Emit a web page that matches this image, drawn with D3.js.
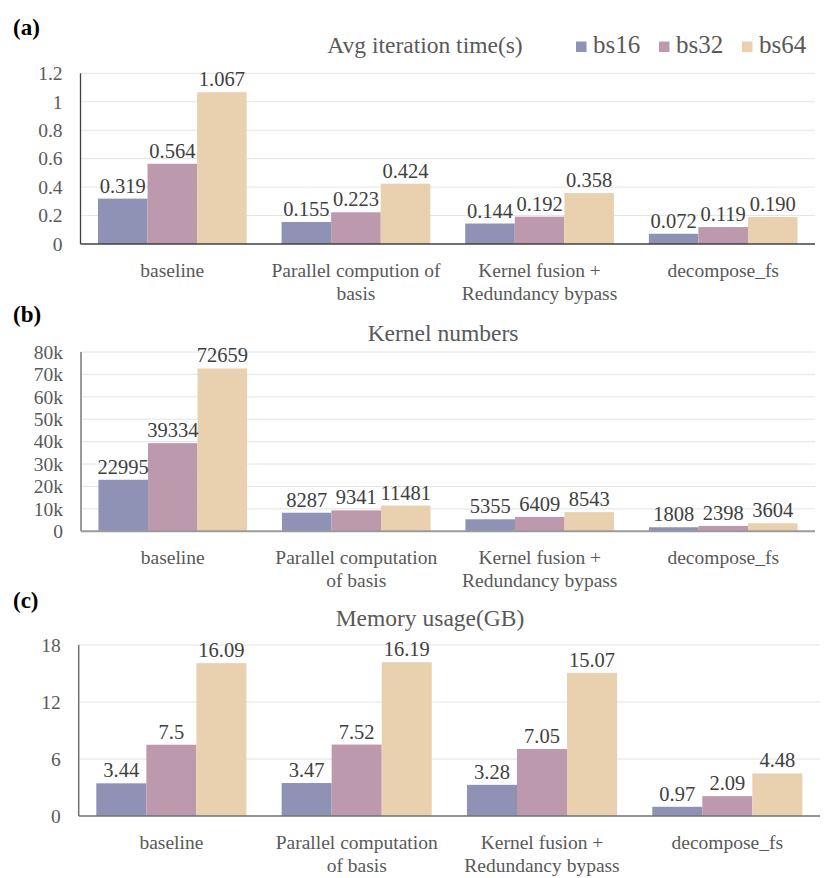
<!DOCTYPE html>
<html>
<head>
<meta charset="utf-8">
<script src="https://cdn.jsdelivr.net/npm/d3@7"></script>
<style>
  body { margin: 0; background: #fff; }
</style>
</head>
<body>
<div id="chart"></div>
<script>
// data
const series = ["bs16", "bs32", "bs64"];
const colors = ["#8f92b4", "#bd99ae", "#e9d1b0"];

const categoriesA = [["baseline"], ["Parallel compution of", "basis"], ["Kernel fusion +", "Redundancy bypass"], ["decompose_fs"]];
const categoriesBC = [["baseline"], ["Parallel computation", "of basis"], ["Kernel fusion +", "Redundancy bypass"], ["decompose_fs"]];

const iterBs16 = [0.319, 0.155, 0.144, 0.072];
const iterBs32 = [0.564, 0.223, 0.192, 0.119];
const iterBs64 = [1.067, 0.424, 0.358, 0.190];
const iterTicks = [0, 0.2, 0.4, 0.6, 0.8, 1, 1.2];

const kernelBs16 = [22995, 8287, 5355, 1808];
const kernelBs32 = [39334, 9341, 6409, 2398];
const kernelBs64 = [72659, 11481, 8543, 3604];
const kernelTicks = [0, 10000, 20000, 30000, 40000, 50000, 60000, 70000, 80000];

const memBs16 = [3.44, 3.47, 3.28, 0.97];
const memBs32 = [7.5, 7.52, 7.05, 2.09];
const memBs64 = [16.09, 16.19, 15.07, 4.48];
const memTicks = [0, 6, 12, 18];

const FONT = "'Liberation Serif', 'Times New Roman', Times, serif";

const svg = d3.select("#chart").append("svg")
    .attr("width", 830)
    .attr("height", 878)
    .attr("font-family", FONT)
    .style("font-family", FONT);

function drawPanel(p) {
    const g = svg.append("g");

    const x = d3.scaleBand()
        .domain(d3.range(p.categories.length))
        .range([p.left, p.right]);

    const xs = d3.scaleBand()
        .domain(series)
        .range([x.bandwidth() * 0.095, x.bandwidth() * 0.905]);

    const y = d3.scaleLinear()
        .domain([0, d3.max(p.ticks)])
        .range([p.bottom, p.top]);

    // gridlines
    g.append("g").selectAll("line")
        .data(p.ticks.filter(t => t !== 0))
        .join("line")
        .attr("x1", p.left).attr("x2", p.right)
        .attr("y1", d => y(d)).attr("y2", d => y(d))
        .attr("stroke", "#e4e4e4")
        .attr("stroke-width", 1);

    // tick labels
    g.append("g").selectAll("text")
        .data(p.ticks)
        .join("text")
        .attr("x", p.left - 18)
        .attr("y", d => y(d))
        .attr("dy", "0.35em")
        .attr("text-anchor", "end")
        .attr("font-family", FONT)
        .attr("font-size", 19.5)
        .attr("fill", "#595959")
        .text(p.tickFormat);

    // bars
    const groups = g.append("g").selectAll("g")
        .data(p.categories.map((c, i) => i))
        .join("g")
        .attr("transform", i => `translate(${x(i)},0)`);

    groups.selectAll("rect")
        .data(i => series.map((s, k) => ({ s: s, k: k, v: p.values[k][i] })))
        .join("rect")
        .attr("x", d => xs(d.s))
        .attr("width", xs.bandwidth())
        .attr("y", d => y(d.v))
        .attr("height", d => y(0) - y(d.v))
        .attr("fill", d => colors[d.k]);

    groups.selectAll("text")
        .data(i => series.map((s, k) => ({ s: s, k: k, v: p.values[k][i] })))
        .join("text")
        .attr("x", d => xs(d.s) + xs.bandwidth() / 2)
        .attr("y", d => y(d.v) - 6)
        .attr("text-anchor", "middle")
        .attr("font-family", FONT)
        .attr("font-size", 20.5)
        .attr("fill", "#404040")
        .text(d => p.valueFormat(d.v));

    // axes lines
    g.append("line")
        .attr("x1", p.left).attr("x2", p.left)
        .attr("y1", p.top).attr("y2", p.bottom)
        .attr("stroke", p.axisColor)
        .attr("stroke-width", p.axisWidth);
    g.append("line")
        .attr("x1", p.left).attr("x2", p.right)
        .attr("y1", p.bottom).attr("y2", p.bottom)
        .attr("stroke", p.axisColor)
        .attr("stroke-width", p.axisWidth);

    // category labels
    const cat = g.append("g").selectAll("text")
        .data(p.categories)
        .join("text")
        .attr("x", (d, i) => x(i) + x.bandwidth() / 2)
        .attr("y", p.bottom + 33)
        .attr("text-anchor", "middle")
        .attr("font-family", FONT)
        .attr("font-size", 19.5)
        .attr("fill", "#595959");
    cat.selectAll("tspan")
        .data(d => d)
        .join("tspan")
        .attr("x", function () { return d3.select(this.parentNode).attr("x"); })
        .attr("dy", (d, j) => j === 0 ? 0 : 23)
        .text(d => d);

    // panel letter + title
    svg.append("text")
        .attr("x", 13)
        .attr("y", p.letterY)
        .attr("font-family", FONT)
        .attr("font-size", 23)
        .attr("font-weight", "bold")
        .attr("fill", "#000")
        .text(p.letter);

    svg.append("text")
        .attr("x", p.titleX)
        .attr("y", p.titleY)
        .attr("text-anchor", "middle")
        .attr("font-family", FONT)
        .attr("font-size", 23.5)
        .attr("fill", "#595959")
        .text(p.title);
}

drawPanel({
    letter: "(a)", letterY: 35,
    title: "Avg iteration time(s)", titleX: 425, titleY: 53,
    categories: categoriesA,
    values: [iterBs16, iterBs32, iterBs64],
    ticks: iterTicks,
    tickFormat: d => String(d),
    valueFormat: d3.format(".3f"),
    left: 80.5, right: 815, top: 73.3, bottom: 244,
    axisColor: "#404040", axisWidth: 1.3
});

drawPanel({
    letter: "(b)", letterY: 322,
    title: "Kernel numbers", titleX: 443, titleY: 341,
    categories: categoriesBC,
    values: [kernelBs16, kernelBs32, kernelBs64],
    ticks: kernelTicks,
    tickFormat: d => d === 0 ? "0" : (d / 1000) + "k",
    valueFormat: d => String(d),
    left: 81, right: 815, top: 352, bottom: 531.3,
    axisColor: "#9a9a9a", axisWidth: 2
});

drawPanel({
    letter: "(c)", letterY: 608,
    title: "Memory usage(GB)", titleX: 430, titleY: 626,
    categories: categoriesBC,
    values: [memBs16, memBs32, memBs64],
    ticks: memTicks,
    tickFormat: d => String(d),
    valueFormat: d => String(d),
    left: 78.7, right: 820, top: 645, bottom: 816,
    axisColor: "#707070", axisWidth: 1.5
});

// legend (top right)
const legend = svg.append("g").selectAll("g")
    .data(series)
    .join("g")
    .attr("transform", (d, i) => `translate(${576 + i * 83},0)`);
legend.append("rect")
    .attr("x", 0).attr("y", 41.5)
    .attr("width", 10.5).attr("height", 10.5)
    .attr("fill", (d, i) => colors[i]);
legend.append("text")
    .attr("x", 17)
    .attr("y", 53)
    .attr("font-family", FONT)
    .attr("font-size", 25)
    .attr("fill", "#595959")
    .text(d => d);
</script>
</body>
</html>
